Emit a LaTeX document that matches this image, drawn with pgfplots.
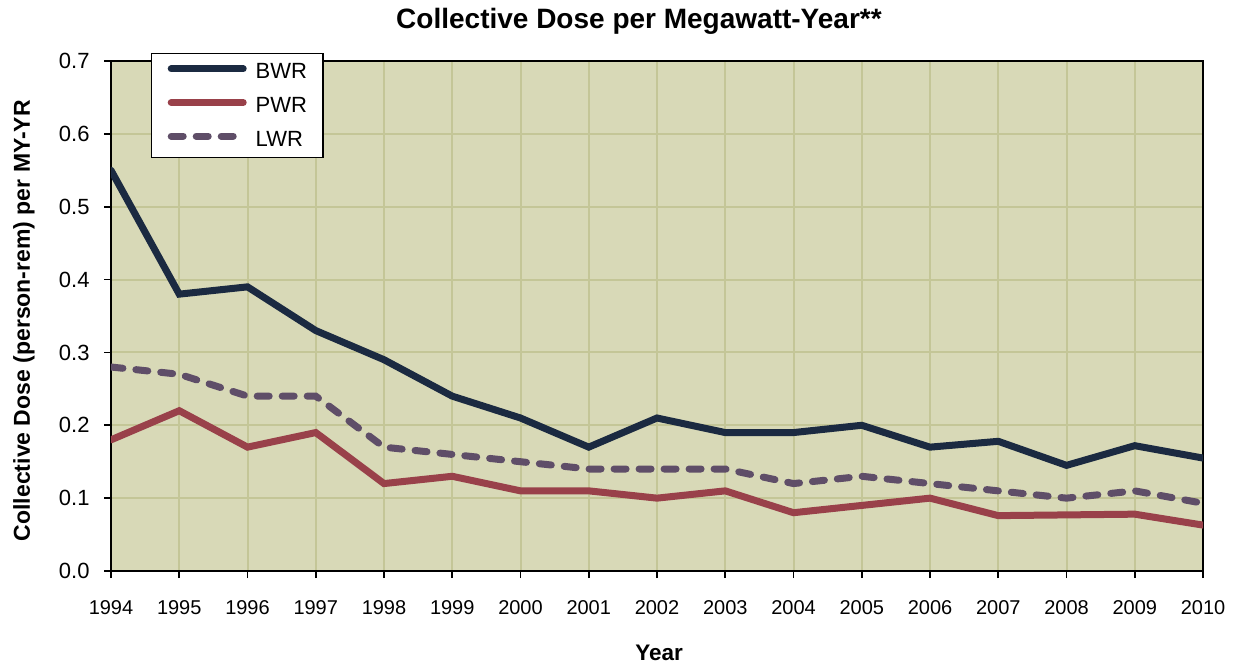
\documentclass[border=0pt]{standalone}
\usepackage{fontspec}
\setmainfont{Liberation Sans}
\usepackage{pgfplots}
\pgfplotsset{compat=1.18}
\definecolor{bgc}{HTML}{D8D9B7}
\definecolor{gridc}{HTML}{C4C697}
\definecolor{bwr}{HTML}{1B2A41}
\definecolor{pwr}{HTML}{99414A}
\definecolor{lwr}{HTML}{5F4E68}
\begin{document}
\begin{tikzpicture}
\useasboundingbox (-111pt,-93pt) rectangle (1123pt,571pt);
\begin{axis}[
  name=ax, at={(0,0)}, anchor=south west,
  scale only axis, width=1092pt, height=510pt,
  xmin=1994, xmax=2010, ymin=0, ymax=0.7,
  xtick={1994,1995,1996,1997,1998,1999,2000,2001,2002,2003,2004,2005,2006,2007,2008,2009,2010},
  ytick={0,0.1,0.2,0.3,0.4,0.5,0.6,0.7},
  xticklabel style={/pgf/number format/1000 sep={}, /pgf/number format/assume math mode=true, font=\fontsize{20}{22}\selectfont, yshift=-19pt},
  yticklabel style={/pgf/number format/.cd, fixed, fixed zerofill, precision=1, assume math mode=true, /tikz/.cd, font=\fontsize{22}{24}\selectfont, xshift=-11pt},
  tick align=outside, xtick pos=bottom, ytick pos=left,
  major tick length=7pt,
  major tick style={black, line width=1.8pt},
  axis line style={black, line width=2pt},
  grid=major,
  major grid style={gridc, line width=2pt},
  axis background/.style={fill=bgc},
  title={\bfseries Collective Dose per Megawatt-Year**},
  title style={at={(axis description cs:0.4835,1)}, anchor=base, yshift=27pt, font=\fontsize{28}{30}\selectfont},
  xlabel={\bfseries Year},
  xlabel style={at={(axis description cs:0.502,0)}, anchor=base, yshift=-89pt, font=\fontsize{22.5}{24}\selectfont},
  ylabel={\bfseries Collective Dose (person-rem) per MY-YR},
  ylabel style={at={(axis description cs:-0.0797,0.491)}, anchor=center, font=\fontsize{23}{25}\selectfont},
  legend style={at={(axis description cs:0.0366,1.0157)}, anchor=north west, draw=black, line width=1.5pt, fill=white, font=\fontsize{22}{24}\selectfont, row sep=17pt, column sep=9pt, inner xsep=16pt, inner ysep=10pt, nodes={inner sep=0pt}, cells={anchor=west}},
  legend image code/.code={\draw[#1] (0pt,0.32em) -- (72pt,0.32em);},
  legend cell align=left,
]
\addplot[bwr, line width=7pt, line cap=round] coordinates {
(1994,0.55) (1995,0.38) (1996,0.39) (1997,0.33) (1998,0.29) (1999,0.24) (2000,0.21) (2001,0.17) (2002,0.21) (2003,0.19) (2004,0.19) (2005,0.20) (2006,0.17) (2007,0.178) (2008,0.145) (2009,0.172) (2010,0.155)};
\addlegendentry{BWR}
\addplot[pwr, line width=7pt, line cap=round] coordinates {
(1994,0.18) (1995,0.22) (1996,0.17) (1997,0.19) (1998,0.12) (1999,0.13) (2000,0.11) (2001,0.11) (2002,0.10) (2003,0.11) (2004,0.08) (2005,0.09) (2006,0.10) (2007,0.076) (2008,0.077) (2009,0.078) (2010,0.063)};
\addlegendentry{PWR}
\addplot[lwr, line width=7pt, line cap=round, dash pattern=on 12pt off 13pt] coordinates {
(1994,0.28) (1995,0.27) (1996,0.24) (1997,0.24) (1998,0.17) (1999,0.16) (2000,0.15) (2001,0.14) (2002,0.14) (2003,0.14) (2004,0.12) (2005,0.13) (2006,0.12) (2007,0.11) (2008,0.10) (2009,0.11) (2010,0.093)};
\addlegendentry{LWR}
\end{axis}
\end{tikzpicture}
\end{document}
